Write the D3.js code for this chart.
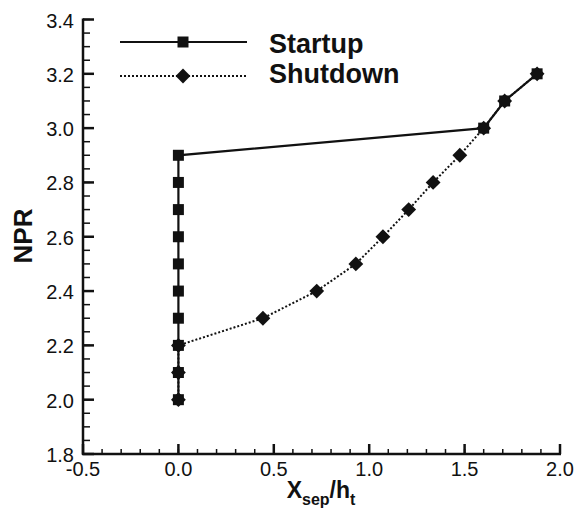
<!DOCTYPE html>
<html><head><meta charset="utf-8">
<script src="https://cdn.jsdelivr.net/npm/d3@7/dist/d3.min.js"></script>
<style>body{margin:0;background:#fff}svg{display:block}</style>
</head><body>
<svg id="c" width="578" height="514"></svg>
<script>
const startupX = [0,0,0,0,0,0,0,0,0,0,1.60,1.71,1.88];
const startupY = [2.0,2.1,2.2,2.3,2.4,2.5,2.6,2.7,2.8,2.9,3.0,3.1,3.2];
const shutdownX = [1.88,1.71,1.60,1.475,1.335,1.207,1.072,0.93,0.725,0.443,0,0,0];
const shutdownY = [3.2,3.1,3.0,2.9,2.8,2.7,2.6,2.5,2.4,2.3,2.2,2.1,2.0];
const xTicks = [-0.5,0.0,0.5,1.0,1.5,2.0];
const yTicks = [1.8,2.0,2.2,2.4,2.6,2.8,3.0,3.2,3.4];
const seriesNames = ["Startup","Shutdown"];

const svg = d3.select("#c");
const x = d3.scaleLinear().domain([-0.5,2.0]).range([83,560]);
const y = d3.scaleLinear().domain([1.8,3.4]).range([454,19.5]);
const col = "#111";
const font = "'Liberation Sans', Arial, Helvetica, sans-serif";

// axes
const xAxis = svg.append("g").attr("transform","translate(0,454)");
xAxis.append("line").attr("x1",x(-0.5)-1).attr("x2",x(2.0)+1).attr("stroke",col).attr("stroke-width",2.5);
const xMinor = d3.range(-0.5,2.0001,0.1);
xAxis.selectAll(".mn").data(xMinor).join("line").attr("x1",d=>x(d)).attr("x2",d=>x(d)).attr("y1",0).attr("y2",-5).attr("stroke",col).attr("stroke-width",1.5);
xAxis.selectAll(".mj").data(xTicks).join("line").attr("x1",d=>x(d)).attr("x2",d=>x(d)).attr("y1",0).attr("y2",-10).attr("stroke",col).attr("stroke-width",2.5);
xAxis.selectAll("text").data(xTicks).join("text").attr("x",d=>x(d)).attr("y",22).attr("text-anchor","middle")
  .attr("font-family",font).attr("font-size",20).attr("fill",col).text(d=>d.toFixed(1));

const yAxis = svg.append("g").attr("transform","translate(83,0)");
yAxis.append("line").attr("y1",y(1.8)+1).attr("y2",y(3.4)-1).attr("stroke",col).attr("stroke-width",2.5);
const yMinor = d3.range(1.8,3.4001,0.05);
yAxis.selectAll(".mn").data(yMinor).join("line").attr("y1",d=>y(d)).attr("y2",d=>y(d)).attr("x1",0).attr("x2",7).attr("stroke",col).attr("stroke-width",1.5);
yAxis.selectAll(".mj").data(yTicks).join("line").attr("y1",d=>y(d)).attr("y2",d=>y(d)).attr("x1",0).attr("x2",11).attr("stroke",col).attr("stroke-width",2.5);
yAxis.selectAll("text").data(yTicks).join("text").attr("x",-9).attr("y",d=>y(d)+8).attr("text-anchor","end")
  .attr("font-family",font).attr("font-size",20).attr("fill",col).text(d=>d.toFixed(1));

// labels
svg.append("text").attr("transform","translate(31.5,236) rotate(-90)").attr("text-anchor","middle")
  .attr("font-family",font).attr("font-size",26).attr("font-weight","bold").attr("fill",col).text("NPR");
const xl = svg.append("text").attr("x",321).attr("y",498).attr("text-anchor","middle")
  .attr("font-family",font).attr("font-weight","bold").attr("fill",col).attr("font-size",23);
xl.append("tspan").text("X");
xl.append("tspan").attr("font-size",16).attr("dy",7).text("sep");
xl.append("tspan").attr("dy",-7).text("/h");
xl.append("tspan").attr("font-size",16).attr("dy",7).text("t");

const line = d3.line().x(d=>x(d[0])).y(d=>y(d[1]));
const su = startupX.map((v,i)=>[v,startupY[i]]);
const sd = shutdownX.map((v,i)=>[v,shutdownY[i]]);

svg.append("path").attr("d",line(sd)).attr("fill","none").attr("stroke",col).attr("stroke-width",2).attr("stroke-dasharray","2,2");
svg.append("path").attr("d",line(su)).attr("fill","none").attr("stroke",col).attr("stroke-width",2.2);

const sq = d3.symbol().type(d3.symbolSquare).size(121);
const dm = d3.symbol().type(d3.symbolSquare).size(110);
svg.selectAll(".su").data(su).join("path").attr("d",sq).attr("transform",d=>`translate(${x(d[0])},${y(d[1])})`).attr("fill",col);
svg.selectAll(".sd").data(sd).join("path").attr("d",dm).attr("transform",d=>`translate(${x(d[0])},${y(d[1])}) rotate(45)`).attr("fill",col);

// legend
const lg = svg.append("g");
lg.append("line").attr("x1",120).attr("x2",247).attr("y1",42).attr("y2",42).attr("stroke",col).attr("stroke-width",2.2);
lg.append("path").attr("d",sq).attr("transform","translate(183,42)").attr("fill",col);
lg.append("line").attr("x1",120).attr("x2",247).attr("y1",76).attr("y2",76).attr("stroke",col).attr("stroke-width",2).attr("stroke-dasharray","2,2");
lg.append("path").attr("d",dm).attr("transform","translate(183,76) rotate(45)").attr("fill",col);
lg.selectAll("text").data(seriesNames).join("text").attr("x",269).attr("y",(d,i)=>53+i*30)
  .attr("font-family",font).attr("font-size",27).attr("font-weight","bold").attr("fill",col).text(d=>d);
</script>
</body></html>
